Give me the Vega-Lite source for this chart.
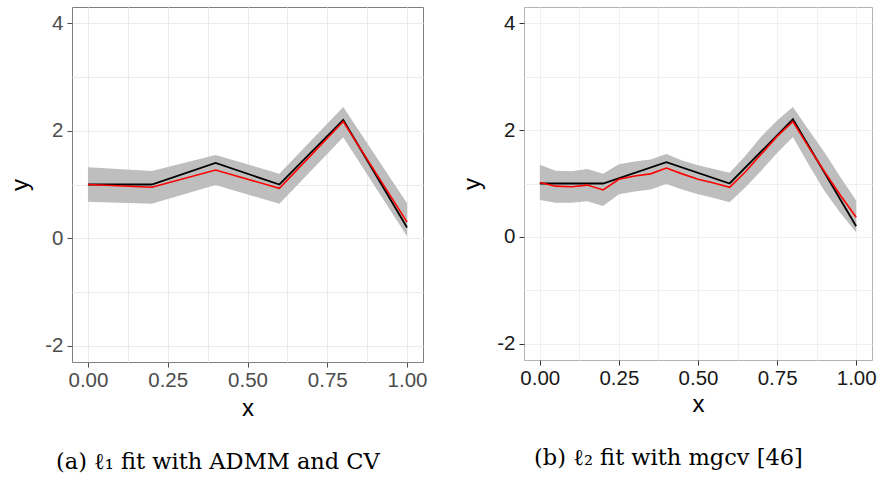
{
  "$schema": "https://vega.github.io/schema/vega-lite/v6.json",
  "background": "white",
  "padding": {"left": 8, "top": 6, "right": 5, "bottom": 5},
  "datasets": {
    "truth": [
      {"x": 0, "y": 1}, {"x": 0.2, "y": 1}, {"x": 0.4, "y": 1.4},
      {"x": 0.6, "y": 1}, {"x": 0.8, "y": 2.2}, {"x": 1, "y": 0.2}
    ],
    "fitA": [
      {"x": 0, "fit": 1.0, "lo": 0.68, "hi": 1.32},
      {"x": 0.2, "fit": 0.95, "lo": 0.64, "hi": 1.25},
      {"x": 0.4, "fit": 1.27, "lo": 0.99, "hi": 1.55},
      {"x": 0.6, "fit": 0.93, "lo": 0.64, "hi": 1.2},
      {"x": 0.8, "fit": 2.17, "lo": 1.88, "hi": 2.44},
      {"x": 1, "fit": 0.3, "lo": 0.04, "hi": 0.65}
    ],
    "fitB": [
      {"x": 0, "fit": 1.02, "lo": 0.69, "hi": 1.35},
      {"x": 0.05, "fit": 0.95, "lo": 0.64, "hi": 1.24},
      {"x": 0.1, "fit": 0.94, "lo": 0.64, "hi": 1.23},
      {"x": 0.15, "fit": 0.97, "lo": 0.67, "hi": 1.27},
      {"x": 0.2, "fit": 0.88, "lo": 0.58, "hi": 1.18},
      {"x": 0.25, "fit": 1.08, "lo": 0.8, "hi": 1.36},
      {"x": 0.3, "fit": 1.14, "lo": 0.85, "hi": 1.41},
      {"x": 0.35, "fit": 1.18, "lo": 0.89, "hi": 1.45},
      {"x": 0.4, "fit": 1.29, "lo": 0.99, "hi": 1.55},
      {"x": 0.45, "fit": 1.18, "lo": 0.89, "hi": 1.43},
      {"x": 0.5, "fit": 1.08, "lo": 0.8, "hi": 1.34},
      {"x": 0.55, "fit": 1.01, "lo": 0.73, "hi": 1.27},
      {"x": 0.6, "fit": 0.93, "lo": 0.65, "hi": 1.2},
      {"x": 0.65, "fit": 1.22, "lo": 0.93, "hi": 1.52},
      {"x": 0.7, "fit": 1.55, "lo": 1.24, "hi": 1.88},
      {"x": 0.75, "fit": 1.88, "lo": 1.57, "hi": 2.18},
      {"x": 0.8, "fit": 2.16, "lo": 1.87, "hi": 2.43},
      {"x": 0.85, "fit": 1.68, "lo": 1.35, "hi": 2.0},
      {"x": 0.9, "fit": 1.22, "lo": 0.86, "hi": 1.58},
      {"x": 0.95, "fit": 0.78, "lo": 0.45, "hi": 1.12},
      {"x": 1, "fit": 0.37, "lo": 0.09, "hi": 0.68}
    ]
  },
  "config": {
    "font": "Liberation Sans",
    "axis": {
      "grid": true,
      "gridColor": "#ebebeb",
      "domain": false,
      "tickSize": 5,
      "labelFontSize": 20.5,
      "titleFontSize": 24,
      "titleFontWeight": "normal",
      "titleColor": "#000000"
    },
    "title": {
      "font": "DejaVu Serif",
      "fontSize": 22.5,
      "fontWeight": "normal",
      "color": "#000000",
      "orient": "bottom",
      "anchor": "middle",
      "frame": "bounds",
      "offset": 30
    }
  },
  "spacing": 32,
  "hconcat": [
    {
      "width": 351,
      "height": 355,
      "view": {"stroke": "#7f7f7f", "strokeWidth": 1},
      "title": {"text": "(a) ℓ₁ fit with ADMM and CV"},
      "layer": [
        {
          "data": {"name": "fitA"},
          "mark": {"type": "area", "color": "#bebebe"},
          "encoding": {
            "x": {
              "field": "x", "type": "quantitative",
              "scale": {"domain": [-0.05, 1.05], "nice": false, "zero": false},
              "axis": {
                "title": "x",
                "values": [0, 0.125, 0.25, 0.375, 0.5, 0.625, 0.75, 0.875, 1],
                "labelExpr": "(datum.value * 4) % 1 == 0 ? format(datum.value, '.2f') : ''",
                "tickOpacity": {"condition": {"test": "(datum.value * 4) % 1 != 0", "value": 0}, "value": 1},
                "tickColor": "#4d4d4d",
                "labelColor": "#4d4d4d",
                "labelPadding": 3,
                "titlePadding": 6
              }
            },
            "y": {
              "field": "lo", "type": "quantitative",
              "scale": {"domain": [-2.3, 4.3], "nice": false, "zero": false},
              "axis": {
                "title": "y",
                "values": [-2, -1, 0, 1, 2, 3, 4],
                "labelExpr": "datum.value % 2 == 0 ? '' + datum.value : ''",
                "tickOpacity": {"condition": {"test": "datum.value % 2 != 0", "value": 0}, "value": 1},
                "tickColor": "#4d4d4d",
                "labelColor": "#4d4d4d",
                "labelPadding": 4,
                "titlePadding": 12
              }
            },
            "y2": {"field": "hi"}
          }
        },
        {
          "data": {"name": "truth"},
          "mark": {"type": "line", "color": "#000000", "strokeWidth": 1.8},
          "encoding": {
            "x": {"field": "x", "type": "quantitative"},
            "y": {"field": "y", "type": "quantitative"}
          }
        },
        {
          "data": {"name": "fitA"},
          "mark": {"type": "line", "color": "#ff0000", "strokeWidth": 1.6},
          "encoding": {
            "x": {"field": "x", "type": "quantitative"},
            "y": {"field": "fit", "type": "quantitative"}
          }
        }
      ]
    },
    {
      "width": 348,
      "height": 353,
      "view": {"stroke": "#b3b3b3", "strokeWidth": 1},
      "title": {"text": "(b) ℓ₂ fit with mgcv [46]"},
      "layer": [
        {
          "data": {"name": "fitB"},
          "mark": {"type": "area", "color": "#bebebe"},
          "encoding": {
            "x": {
              "field": "x", "type": "quantitative",
              "scale": {"domain": [-0.05, 1.05], "nice": false, "zero": false},
              "axis": {
                "title": "x",
                "values": [0, 0.125, 0.25, 0.375, 0.5, 0.625, 0.75, 0.875, 1],
                "labelExpr": "(datum.value * 4) % 1 == 0 ? format(datum.value, '.2f') : ''",
                "tickOpacity": {"condition": {"test": "(datum.value * 4) % 1 != 0", "value": 0}, "value": 1},
                "tickColor": "#333333",
                "labelColor": "#1a1a1a",
                "gridColor": "#f0f0f0",
                "labelPadding": 3,
                "titlePadding": 4
              }
            },
            "y": {
              "field": "lo", "type": "quantitative",
              "scale": {"domain": [-2.3, 4.3], "nice": false, "zero": false},
              "axis": {
                "title": "y",
                "values": [-2, -1, 0, 1, 2, 3, 4],
                "labelExpr": "datum.value % 2 == 0 ? '' + datum.value : ''",
                "tickOpacity": {"condition": {"test": "datum.value % 2 != 0", "value": 0}, "value": 1},
                "tickColor": "#333333",
                "labelColor": "#1a1a1a",
                "gridColor": "#f0f0f0",
                "labelPadding": 4,
                "titlePadding": 12
              }
            },
            "y2": {"field": "hi"}
          }
        },
        {
          "data": {"name": "truth"},
          "mark": {"type": "line", "color": "#000000", "strokeWidth": 1.8},
          "encoding": {
            "x": {"field": "x", "type": "quantitative"},
            "y": {"field": "y", "type": "quantitative"}
          }
        },
        {
          "data": {"name": "fitB"},
          "mark": {"type": "line", "color": "#ff0000", "strokeWidth": 1.6},
          "encoding": {
            "x": {"field": "x", "type": "quantitative"},
            "y": {"field": "fit", "type": "quantitative"}
          }
        }
      ]
    }
  ]
}
